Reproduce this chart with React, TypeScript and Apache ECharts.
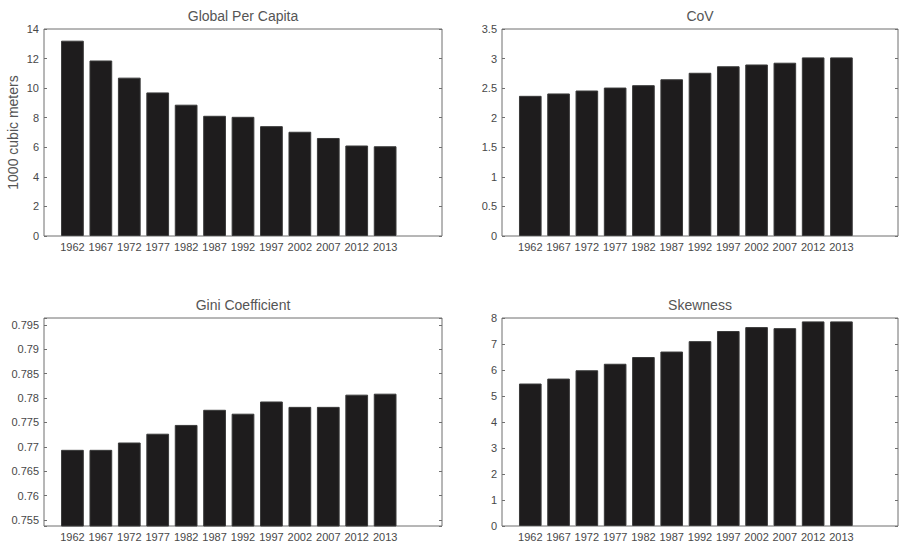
import React, { useEffect, useRef } from 'react';
import * as echarts from 'echarts';

// ---------- data ----------
const years = ['1962', '1967', '1972', '1977', '1982', '1987', '1992', '1997', '2002', '2007', '2012', '2013'];
const perCapita = [13.21, 11.87, 10.71, 9.71, 8.88, 8.13, 8.06, 7.43, 7.05, 6.63, 6.12, 6.07];
const cov = [2.37, 2.41, 2.46, 2.51, 2.55, 2.65, 2.76, 2.87, 2.9, 2.93, 3.02, 3.02];
const gini = [0.7694, 0.7694, 0.7709, 0.7727, 0.7745, 0.7776, 0.7768, 0.7793, 0.7782, 0.7782, 0.7807, 0.7809];
const skewness = [5.48, 5.67, 5.99, 6.24, 6.5, 6.71, 7.11, 7.5, 7.65, 7.61, 7.87, 7.87];
const titles = ['Global Per Capita', 'CoV', 'Gini Coefficient', 'Skewness'];
const yLabel = '1000 cubic meters';
const yRanges = [
  { min: 0, max: 14, step: 2 },
  { min: 0, max: 3.5, step: 0.5 },
  { min: 0.7538, max: 0.7964, step: 0.005 },
  { min: 0, max: 8, step: 1 },
];
const seriesData = [perCapita, cov, gini, skewness];

// ---------- layout ----------
const frames = [
  { left: 44, top: 29, width: 398, height: 207 },
  { left: 502, top: 29, width: 396, height: 207 },
  { left: 44, top: 318, width: 398, height: 208 },
  { left: 502, top: 318, width: 396, height: 208 },
];
const X_SPAN = 14; // x limits [0, 14], bars at 1..12

const AXIS_COLOR = '#6f6f6f';
const TEXT_COLOR = '#484848';
const TICK_FONT = "'Liberation Sans', Arial, Helvetica, sans-serif";
const MAIN_FONT = "'Liberation Sans', Arial, Helvetica, sans-serif";

function buildOption() {
  const grid: any[] = [];
  const xAxis: any[] = [];
  const yAxis: any[] = [];
  const series: any[] = [];
  const graphic: any[] = [];

  frames.forEach((f, i) => {
    const unit = f.width / X_SPAN;
    grid.push({
      left: f.left, top: f.top, width: f.width, height: f.height,
      show: true, borderColor: AXIS_COLOR, borderWidth: 1, backgroundColor: 'transparent',
    });
    grid.push({
      left: f.left + 0.5 * unit, top: f.top, width: 12 * unit, height: f.height,
    });
    const fg = 2 * i;
    const cg = 2 * i + 1;
    const r = yRanges[i];
    const tick = { inside: true, length: 3, lineStyle: { color: AXIS_COLOR, width: 1 } };

    xAxis.push({ gridIndex: fg, type: 'value', show: false, min: 0, max: X_SPAN });
    xAxis.push({
      gridIndex: cg, type: 'category', data: years, position: 'bottom',
      axisLine: { show: false },
      axisTick: { ...tick, alignWithLabel: true, interval: 0 },
      axisLabel: { interval: 0, margin: 5, color: TEXT_COLOR, fontSize: 11, fontFamily: TICK_FONT },
      splitLine: { show: false },
    });
    xAxis.push({
      gridIndex: cg, type: 'category', data: years, position: 'top',
      axisLine: { show: false },
      axisTick: { ...tick, alignWithLabel: true, interval: 0 },
      axisLabel: { show: false },
      splitLine: { show: false },
    });

    const isMultiple = (v: number) => Math.abs(v / r.step - Math.round(v / r.step)) < 1e-6;
    const common: any = {
      gridIndex: fg, type: 'value', min: r.min, max: r.max,
      splitNumber: Math.round((r.max - r.min) / r.step),
      minInterval: r.step, maxInterval: r.step,
      axisLine: { show: false },
      axisTick: tick,
      splitLine: { show: false },
    };
    if (r.min % r.step === 0) {
      common.interval = r.step;
    }
    yAxis.push({
      ...common, position: 'left',
      axisLabel: {
        margin: 5, color: TEXT_COLOR, fontSize: 11, fontFamily: TICK_FONT,
        showMinLabel: true, showMaxLabel: true,
        formatter: (v: number) => (isMultiple(v) ? String(+v.toFixed(4)) : ''),
      },
      ...(i === 0
        ? {
            name: yLabel, nameLocation: 'middle', nameGap: 24,
            nameTextStyle: { color: '#555', fontSize: 14, fontFamily: MAIN_FONT },
          }
        : {}),
    });
    yAxis.push({ ...common, position: 'right', axisLabel: { show: false } });
    yAxis.push({ gridIndex: cg, type: 'value', min: r.min, max: r.max, show: false });

    series.push({
      type: 'bar',
      xAxisIndex: 3 * i + 1,
      yAxisIndex: 3 * i + 2,
      data: seriesData[i],
      barWidth: '80%',
      itemStyle: { color: '#1e1c1d', borderColor: '#3a3a3a', borderWidth: 1 },
      silent: true,
    });

    graphic.push({
      type: 'text',
      x: f.left + f.width / 2,
      y: f.top - 13.5,
      style: {
        text: titles[i], fill: '#555', font: `14px ${MAIN_FONT}`,
        textAlign: 'center', textVerticalAlign: 'middle',
      },
    });
  });

  return { animation: false, backgroundColor: '#fff', grid, xAxis, yAxis, series, graphic };
}

export default function App() {
  const ref = useRef<HTMLDivElement>(null);
  useEffect(() => {
    if (!ref.current) return;
    const chart = echarts.init(ref.current, undefined, { renderer: 'svg' });
    chart.setOption(buildOption() as any);
    return () => chart.dispose();
  }, []);
  return (
    <div
      ref={ref}
      style={{ position: 'absolute', left: 0, top: 0, width: 899, height: 542, background: '#fff' }}
    />
  );
}
